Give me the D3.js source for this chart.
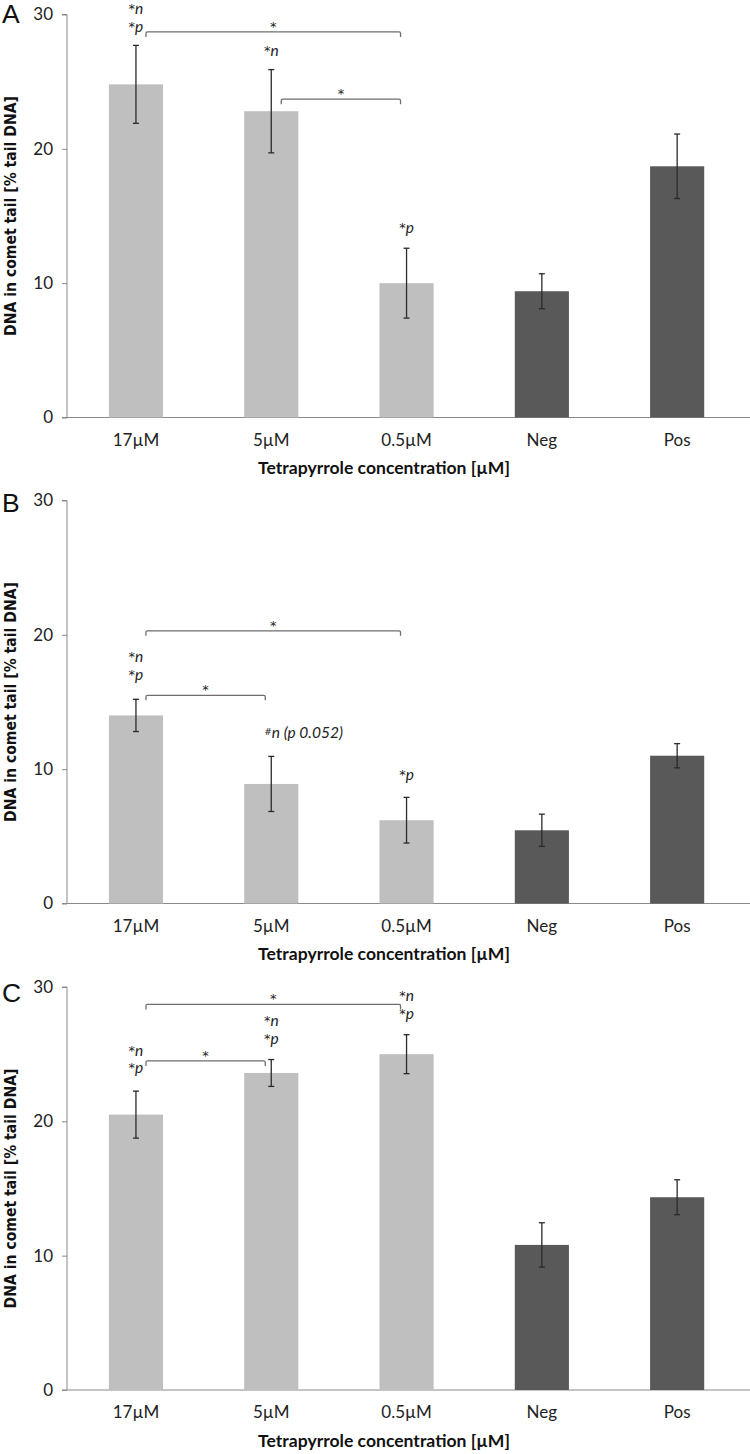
<!DOCTYPE html>
<html><head><meta charset="utf-8">
<script src="https://cdn.jsdelivr.net/npm/d3@7"></script>
<style>body{margin:0;background:#fff}svg{display:block}</style>
</head><body>
<script>
// ---------- data ----------
const categories = ["17µM", "5µM", "0.5µM", "Neg", "Pos"];
const groups = ["treated", "treated", "treated", "control", "control"];
const yTicks = [0, 10, 20, 30];
const panelLetters = ["A", "B", "C"];
const xTitle = "Tetrapyrrole concentration [µM]";
const yTitle = "DNA in comet tail [% tail DNA]";

const meansA = [24.8, 22.8, 10.0, 9.4, 18.7];
const errA   = [2.9, 3.1, 2.6, 1.3, 2.4];
const meansB = [14.0, 8.9, 6.2, 5.45, 11.0];
const errB   = [1.2, 2.05, 1.7, 1.2, 0.9];
const meansC = [20.5, 23.6, 25.0, 10.8, 14.35];
const errC   = [1.75, 1.0, 1.45, 1.65, 1.3];

const bracketsA = [{from: "17µM", to: "0.5µM", level: 28.7, label: "*"}, {from: "5µM", to: "0.5µM", level: 23.7, label: "*"}];
const bracketsB = [{from: "17µM", to: "0.5µM", level: 20.3, label: "*"}, {from: "17µM", to: "5µM", level: 15.5, label: "*"}];
const bracketsC = [{from: "17µM", to: "0.5µM", level: 28.7, label: "*"}, {from: "17µM", to: "5µM", level: 24.5, label: "*"}];

const notesA = [
  {cat: "17µM", level: 30.4, sym: "*", txt: "n"}, {cat: "17µM", level: 29.05, sym: "*", txt: "p"},
  {cat: "5µM", level: 27.25, sym: "*", txt: "n"}, {cat: "0.5µM", level: 14.1, sym: "*", txt: "p"}];
const notesB = [
  {cat: "17µM", level: 18.35, sym: "*", txt: "n"}, {cat: "17µM", level: 17.0, sym: "*", txt: "p"},
  {cat: "5µM", level: 12.7, sym: "#", txt: "n (p 0.052)", left: true}, {cat: "0.5µM", level: 9.6, sym: "*", txt: "p"}];
const notesC = [
  {cat: "0.5µM", level: 29.35, sym: "*", txt: "n"}, {cat: "0.5µM", level: 28.0, sym: "*", txt: "p"},
  {cat: "5µM", level: 27.45, sym: "*", txt: "n"}, {cat: "5µM", level: 26.1, sym: "*", txt: "p"},
  {cat: "17µM", level: 25.25, sym: "*", txt: "n"}, {cat: "17µM", level: 23.95, sym: "*", txt: "p"}];

const panels = [
  {means: meansA, errs: errA, brackets: bracketsA, notes: notesA},
  {means: meansB, errs: errB, brackets: bracketsB, notes: notesB},
  {means: meansC, errs: errC, brackets: bracketsC, notes: notesC}];

// ---------- layout ----------
const W = 750, H = 1454;
const panelTops = [14.5, 500.5, 987];
const letterBase = [23, 511.5, 1001.5];
const plotH = 403;
const axisX = 67;

const svg = d3.select("body").append("svg").attr("width", W).attr("height", H);
const x = d3.scaleBand().domain(categories).range([68.3, 744.8]).paddingInner(0.6).paddingOuter(0.3);
const color = d3.scaleOrdinal().domain(["treated", "control"]).range(["#bfbfbf", "#595959"]);

function fit(sel, target) {
  const len = sel.node().getComputedTextLength();
  const fs = parseFloat(sel.attr("font-size"));
  sel.attr("font-size", fs * target / len);
}

panels.forEach((p, i) => {
  const top = panelTops[i];
  const y = d3.scaleLinear().domain([0, 30]).range([top + plotH, top]);
  const g = svg.append("g");

  // y axis
  const yAx = g.append("g").attr("transform", `translate(${axisX},0)`)
    .call(d3.axisLeft(y).tickValues(yTicks).tickSize(5).tickPadding(9));
  yAx.select(".domain").attr("stroke", "#8a8a8a").attr("d", `M-5,${y(30)}H0V${y(0)}`);
  yAx.selectAll(".tick line").attr("stroke", "#8a8a8a");
  yAx.selectAll(".tick text").attr("font-family", "Lato, 'Open Sans', sans-serif").attr("font-size", 17).attr("fill", "#222");

  // x axis
  const xAx = g.append("g").attr("transform", `translate(0,${y(0)})`)
    .call(d3.axisBottom(x).tickSize(0).tickPadding(16));
  xAx.select(".domain").attr("stroke", "#8a8a8a").attr("d", `M62,0H750`);
  xAx.selectAll(".tick text").attr("font-family", "Lato, 'Open Sans', sans-serif").attr("font-size", 17).attr("fill", "#222");

  // bars
  g.selectAll("rect.bar").data(categories).join("rect").attr("class", "bar")
    .attr("x", d => x(d)).attr("width", x.bandwidth())
    .attr("y", (d, j) => y(p.means[j])).attr("height", (d, j) => y(0) - y(p.means[j]))
    .attr("fill", (d, j) => color(groups[j]));

  // error bars
  const eb = g.selectAll("g.err").data(categories).join("g").attr("class", "err")
    .attr("stroke", "#2a2a2a").attr("stroke-width", 1.3);
  eb.append("line").attr("x1", d => x(d) + x.bandwidth() / 2).attr("x2", d => x(d) + x.bandwidth() / 2)
    .attr("y1", (d, j) => y(p.means[j] + p.errs[j])).attr("y2", (d, j) => y(p.means[j] - p.errs[j]));
  [1, -1].forEach(s => {
    eb.append("line").attr("x1", d => x(d) + x.bandwidth() / 2 - 3).attr("x2", d => x(d) + x.bandwidth() / 2 + 3)
      .attr("y1", (d, j) => y(p.means[j] + s * p.errs[j])).attr("y2", (d, j) => y(p.means[j] + s * p.errs[j]));
  });

  // brackets
  p.brackets.forEach(b => {
    const x1 = x(b.from) + x.bandwidth() / 2 + 10;
    const x2 = x(b.to) + x.bandwidth() / 2 - 6;
    const yy = y(b.level);
    g.append("path").attr("fill", "none").attr("stroke", "#6e6e6e").attr("stroke-width", 1.3)
      .attr("d", `M${x1},${yy + 5}V${yy + 1.5}Q${x1},${yy} ${x1 + 1.5},${yy}H${x2 - 1.5}Q${x2},${yy} ${x2},${yy + 1.5}V${yy + 5}`);
    g.append("text").attr("x", (x1 + x2) / 2).attr("y", yy - 1).attr("text-anchor", "middle")
      .attr("font-family", "'DejaVu Sans', sans-serif").attr("font-size", 13).attr("fill", "#222").text(b.label);
  });

  // significance notes
  p.notes.forEach(n => {
    const cx = x(n.cat) + x.bandwidth() / 2;
    const t = g.append("text").attr("y", y(n.level) + 5)
      .attr("font-family", "Lato, 'Open Sans', sans-serif").attr("fill", "#222");
    if (n.left) t.attr("x", cx - 7).attr("text-anchor", "start");
    else t.attr("x", cx).attr("text-anchor", "middle");
    t.append("tspan").attr("font-family", "'DejaVu Sans', sans-serif")
      .attr("font-size", n.sym === "#" ? 9 : 13).attr("dy", n.sym === "#" ? -3 : -1).text(n.sym);
    t.append("tspan").attr("font-size", 15.5).attr("font-style", "italic").attr("dy", n.sym === "#" ? 3 : 1).text(n.txt);
  });

  // titles
  const yt = g.append("text").attr("transform", `translate(11,${top + plotH / 2}) rotate(-90)`)
    .attr("text-anchor", "middle").attr("dominant-baseline", "central")
    .attr("font-family", "'DejaVu Sans Condensed', 'DejaVu Sans', sans-serif").attr("font-stretch", "condensed")
    .attr("font-weight", "bold").attr("font-size", 14)
    .attr("fill", "#111").text(yTitle);
  fit(yt, 240);
  const xt = g.append("text").attr("x", 384).attr("y", y(0) + 50)
    .attr("text-anchor", "middle").attr("dominant-baseline", "central")
    .attr("font-family", "Lato, 'Open Sans', sans-serif").attr("font-weight", "bold").attr("font-size", 18)
    .attr("fill", "#111").text(xTitle);
  fit(xt, 252);

  // panel letter
  g.append("text").attr("x", 2).attr("y", letterBase[i])
    .attr("font-family", "'Liberation Sans', Arial, sans-serif").attr("font-size", 26.5).attr("fill", "#111")
    .text(panelLetters[i]);
});
</script>
</body></html>
